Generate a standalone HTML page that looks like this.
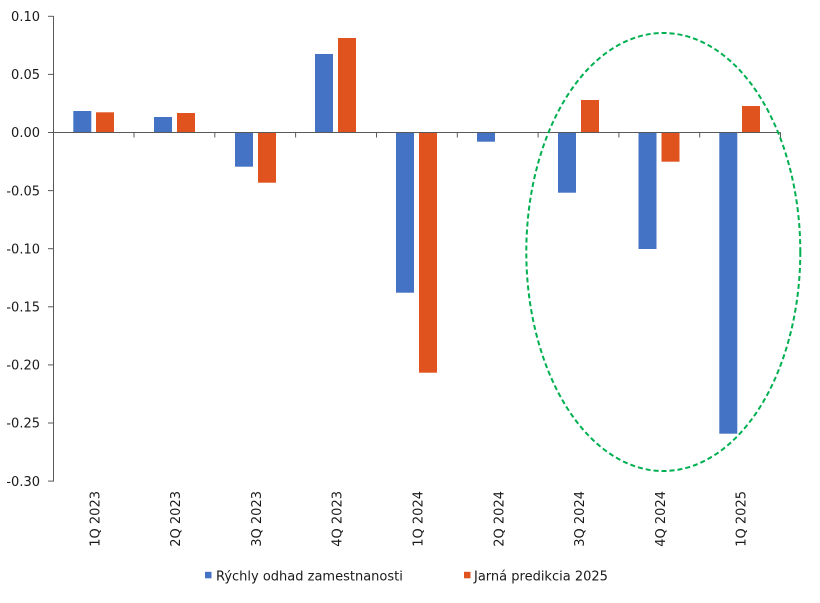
<!DOCTYPE html>
<html>
<head>
<meta charset="utf-8">
<style>
  html, body { margin: 0; padding: 0; background: #ffffff; }
  svg { display: block; }
  text { font-family: "DejaVu Sans", "Liberation Sans", sans-serif; font-size: 13px; fill: #1a1a1a; }
</style>
</head>
<body>
<svg width="820" height="603" viewBox="0 0 820 603" xmlns="http://www.w3.org/2000/svg">
  <rect width="820" height="603" fill="#ffffff"/>

  <!-- Bars: blue -->
  <g fill="#4472C4">
    <rect x="73.3" y="111" width="18" height="21.3"/>
    <rect x="154" y="117" width="18" height="15.3"/>
    <rect x="235" y="132.3" width="18" height="34.4"/>
    <rect x="315" y="54" width="18" height="78.3"/>
    <rect x="396" y="132.3" width="18" height="160.4"/>
    <rect x="477" y="132.3" width="18" height="9.4"/>
    <rect x="558" y="132.3" width="18" height="60.4"/>
    <rect x="638.5" y="132.3" width="18" height="116.7"/>
    <rect x="719.3" y="132.3" width="18" height="301.4"/>
  </g>
  <!-- Bars: orange -->
  <g fill="#E0521E">
    <rect x="96" y="112.3" width="18" height="20"/>
    <rect x="177" y="113" width="18" height="19.3"/>
    <rect x="258" y="132.3" width="18" height="50.4"/>
    <rect x="338" y="38" width="18" height="94.3"/>
    <rect x="419" y="132.3" width="18" height="240.4"/>
    <rect x="581" y="100" width="18" height="32.3"/>
    <rect x="661.5" y="132.3" width="18" height="29.4"/>
    <rect x="742" y="106" width="18" height="26.3"/>
  </g>

  <!-- Axes -->
  <g stroke="#595959" stroke-width="1" fill="none">
    <line x1="53.5" y1="16" x2="53.5" y2="481.5"/>
    <line x1="48" y1="16.3" x2="53.5" y2="16.3"/>
    <line x1="48" y1="74.4" x2="53.5" y2="74.4"/>
    <line x1="48" y1="132.5" x2="53.5" y2="132.5"/>
    <line x1="48" y1="190.6" x2="53.5" y2="190.6"/>
    <line x1="48" y1="248.7" x2="53.5" y2="248.7"/>
    <line x1="48" y1="306.8" x2="53.5" y2="306.8"/>
    <line x1="48" y1="364.9" x2="53.5" y2="364.9"/>
    <line x1="48" y1="423" x2="53.5" y2="423"/>
    <line x1="48" y1="481.1" x2="53.5" y2="481.1"/>
    <line x1="53.5" y1="132.5" x2="780.5" y2="132.5"/>
    <line x1="134" y1="132.5" x2="134" y2="137.5"/>
    <line x1="214.8" y1="132.5" x2="214.8" y2="137.5"/>
    <line x1="295.6" y1="132.5" x2="295.6" y2="137.5"/>
    <line x1="376.5" y1="132.5" x2="376.5" y2="137.5"/>
    <line x1="457.3" y1="132.5" x2="457.3" y2="137.5"/>
    <line x1="538.1" y1="132.5" x2="538.1" y2="137.5"/>
    <line x1="618.9" y1="132.5" x2="618.9" y2="137.5"/>
    <line x1="699.7" y1="132.5" x2="699.7" y2="137.5"/>
    <line x1="780.5" y1="132.5" x2="780.5" y2="137.5"/>
  </g>

  <!-- Y labels -->
  <g text-anchor="end">
    <text x="40" y="21">0.10</text>
    <text x="40" y="79.1">0.05</text>
    <text x="40" y="137.2">0.00</text>
    <text x="40" y="195.3">-0.05</text>
    <text x="40" y="253.4">-0.10</text>
    <text x="40" y="311.5">-0.15</text>
    <text x="40" y="369.6">-0.20</text>
    <text x="40" y="427.7">-0.25</text>
    <text x="40" y="485.8">-0.30</text>
  </g>

  <!-- X labels -->
  <g text-anchor="end">
    <text transform="translate(99.3,491) rotate(-90)">1Q 2023</text>
    <text transform="translate(180.1,491) rotate(-90)">2Q 2023</text>
    <text transform="translate(260.9,491) rotate(-90)">3Q 2023</text>
    <text transform="translate(341.7,491) rotate(-90)">4Q 2023</text>
    <text transform="translate(422.5,491) rotate(-90)">1Q 2024</text>
    <text transform="translate(503.3,491) rotate(-90)">2Q 2024</text>
    <text transform="translate(584.1,491) rotate(-90)">3Q 2024</text>
    <text transform="translate(664.9,491) rotate(-90)">4Q 2024</text>
    <text transform="translate(745.7,491) rotate(-90)">1Q 2025</text>
  </g>

  <!-- Ellipse -->
  <ellipse cx="663.3" cy="252" rx="137" ry="219" fill="none" stroke="#00B050" stroke-width="2" stroke-dasharray="5,3"/>

  <!-- Legend -->
  <rect x="205" y="571.8" width="6.5" height="6.5" fill="#4472C4"/>
  <text x="216" y="580.5">Rýchly odhad zamestnanosti</text>
  <rect x="464" y="571.8" width="6.5" height="6.5" fill="#E0521E"/>
  <text x="474" y="580.5">Jarná predikcia 2025</text>
</svg>
</body>
</html>
